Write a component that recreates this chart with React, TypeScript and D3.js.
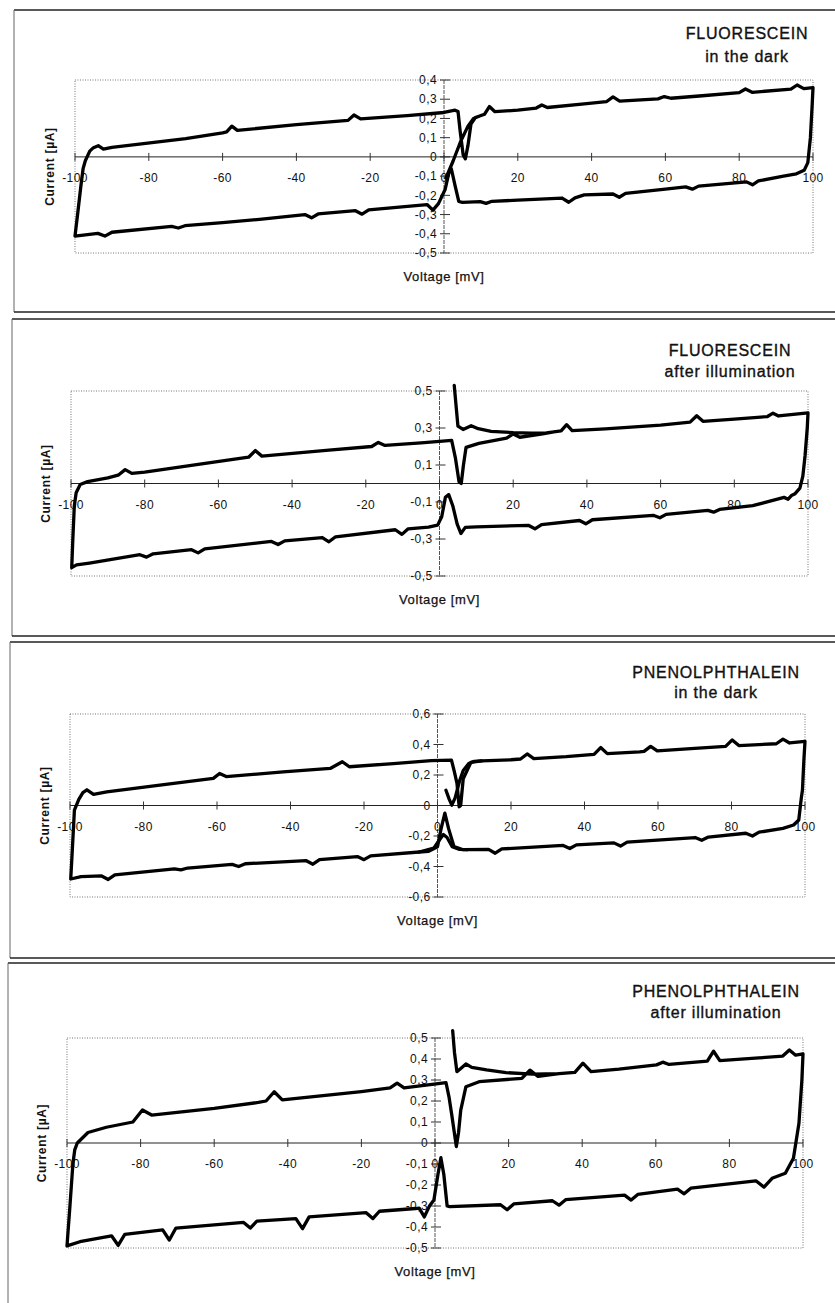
import React from 'react';
import * as d3 from 'd3';

type Pt = [number, number];

// voltage [mV], current [uA]
const xTicks = [-100, -80, -60, -40, -20, 0, 20, 40, 60, 80, 100];
const yTicksFluoDark = [0.4, 0.3, 0.2, 0.1, 0, -0.1, -0.2, -0.3, -0.4, -0.5];
const yTicksFluoIllum = [0.5, 0.3, 0.1, -0.1, -0.3, -0.5];
const yTicksPhenDark = [0.6, 0.4, 0.2, 0, -0.2, -0.4, -0.6];
const yTicksPhenIllum = [0.5, 0.4, 0.3, 0.2, 0.1, 0, -0.1, -0.2, -0.3, -0.4, -0.5];

const fluoDarkLoop: Pt[] = [
  [0.5, -0.11], [2.5, -0.02], [4.5, 0.08], [6.5, 0.16], [8, 0.2], [10, 0.215], [11, 0.222], [12.3, 0.262], [13.8, 0.235],
  [20, 0.243], [25, 0.254], [26.5, 0.27], [28, 0.257], [38, 0.276], [44, 0.287], [45.8, 0.312], [47.6, 0.29],
  [58, 0.302], [59.7, 0.314], [61.5, 0.305], [70, 0.318], [80, 0.334], [81.7, 0.353], [83.5, 0.336],
  [94, 0.352], [95.7, 0.374], [97.5, 0.355], [100, 0.36],
  [99.8, 0.28], [99.3, 0.1], [98.6, -0.03], [97.6, -0.07], [95.5, -0.088], [92, -0.1],
  [85.2, -0.125], [83.6, -0.145], [82, -0.13], [69, -0.152], [67.3, -0.168], [65.5, -0.156],
  [60, -0.168], [49.2, -0.19], [47.5, -0.21], [45.8, -0.193], [38, -0.198], [35.5, -0.213], [33.8, -0.236], [32, -0.214],
  [20, -0.225], [13, -0.231], [11.4, -0.242], [9.8, -0.233], [5, -0.237], [4, -0.232],
  [3, -0.15], [2, -0.063], [1.3, -0.085], [0.3, -0.17], [-1.5, -0.243], [-3, -0.277], [-4.6, -0.248],
  [-20.4, -0.276], [-22.2, -0.298], [-24, -0.28], [-34.1, -0.297], [-35.9, -0.317], [-37.7, -0.3],
  [-50, -0.325], [-60, -0.342], [-70.2, -0.358], [-72, -0.37], [-73.8, -0.362], [-90, -0.392], [-91.9, -0.412], [-93.8, -0.398],
  [-100, -0.412],
  [-99.3, -0.3], [-98.4, -0.15], [-97.8, -0.06], [-97.2, -0.02], [-96, 0.03], [-95, 0.048], [-93.7, 0.058], [-92.3, 0.04], [-90, 0.05],
  [-70, 0.095], [-60, 0.125], [-58.9, 0.13], [-57.5, 0.16], [-56, 0.138], [-40, 0.168], [-26, 0.19], [-24.4, 0.218], [-22.6, 0.198],
  [-10, 0.215], [0, 0.231], [3, 0.243], [3.8, 0.236],
  [4.4, 0.13], [5.2, 0.01], [5.8, -0.01], [6.5, 0.06], [7.3, 0.17], [8.5, 0.205], [11, 0.222],
];

const fluoIllumLoop: Pt[] = [
  [4.0, 0.53], [4.5, 0.42], [5.0, 0.31], [6.4, 0.292], [8.6, 0.312], [10.5, 0.296], [14, 0.282], [20, 0.275], [25, 0.272], [29, 0.274],
  [31, 0.279], [33, 0.284], [34.5, 0.318], [36, 0.286], [45, 0.295], [54, 0.307], [60, 0.316], [68, 0.332], [69.8, 0.366], [71.5, 0.336],
  [80, 0.348], [89, 0.362], [90.5, 0.38], [92, 0.365], [100, 0.382],
  [99.8, 0.3], [99.2, 0.15], [98.6, 0.04], [97.8, -0.025], [96.5, -0.055], [95.5, -0.065], [94.6, -0.085], [93.5, -0.075],
  [85, -0.12], [76, -0.14], [74.4, -0.155], [72.8, -0.145], [61.5, -0.167], [59.8, -0.185], [58, -0.172],
  [41.5, -0.196], [39.7, -0.218], [38, -0.2], [27.7, -0.222], [25.9, -0.245], [24.1, -0.226], [10, -0.234], [7, -0.237],
  [5.8, -0.27], [4.8, -0.22], [3.6, -0.12], [2.5, -0.06], [1.6, -0.075], [0.6, -0.18], [-0.5, -0.225], [-3, -0.236],
  [-8.5, -0.245], [-10.2, -0.275], [-12, -0.25], [-28.2, -0.288], [-30, -0.315], [-31.8, -0.292],
  [-42, -0.31], [-43.8, -0.33], [-45.6, -0.313], [-63.7, -0.353], [-65.5, -0.375], [-67.3, -0.358],
  [-77.7, -0.38], [-79.5, -0.398], [-81.3, -0.385], [-95, -0.43], [-98.5, -0.44], [-99.8, -0.455],
  [-99.5, -0.3], [-99.1, -0.12], [-98.6, -0.05], [-97.5, -0.005], [-95.5, 0.01], [-90, 0.03], [-87.2, 0.045], [-85.3, 0.075], [-83.5, 0.055],
  [-80, 0.062], [-65, 0.105], [-51.8, 0.142], [-50, 0.178], [-48.2, 0.148], [-30, 0.18], [-18.4, 0.2], [-16.6, 0.222], [-14.8, 0.206],
  [-5, 0.22], [2.5, 0.232], [3.3, 0.233],
  [4.3, 0.14], [5.3, 0.01], [5.9, 0.0], [6.5, 0.1], [7.2, 0.195], [10.7, 0.217], [18.2, 0.245], [20, 0.268], [21.8, 0.25], [28, 0.268], [31, 0.279],
];

const phenDarkStart: Pt[] = [
  [2.3, 0.1], [3.2, 0.04], [3.9, 0.002], [4.8, 0.05], [6, 0.16], [7, 0.23], [8.5, 0.275], [10, 0.29], [12, 0.292],
];

const phenDarkLoop: Pt[] = [
  [12, 0.292], [20, 0.3], [22.6, 0.305], [24.4, 0.338], [26.2, 0.308], [35, 0.32], [42.6, 0.335], [44.4, 0.38], [46.2, 0.34],
  [55, 0.352], [56.2, 0.355], [58, 0.388], [59.8, 0.358], [70, 0.375], [78.4, 0.388], [80.2, 0.43], [82, 0.393],
  [92.2, 0.405], [94, 0.435], [95.8, 0.41], [100, 0.42],
  [99.7, 0.3], [99.3, 0.1], [99, 0.05], [98.3, -0.095], [96.9, -0.128], [94, -0.15], [87.5, -0.175], [85.7, -0.2], [83.9, -0.182],
  [73.7, -0.207], [71.9, -0.228], [70.1, -0.21], [51.6, -0.24], [49.8, -0.266], [48, -0.245], [37.8, -0.258], [36, -0.282], [34.2, -0.262],
  [17.5, -0.285], [15.7, -0.313], [13.9, -0.288], [7, -0.29], [4.5, -0.27], [3, -0.15], [2, -0.05], [1, -0.15], [0, -0.27], [-2.4, -0.3],
  [-18.2, -0.33], [-20, -0.355], [-21.8, -0.335], [-32.1, -0.355], [-33.9, -0.385], [-35.7, -0.362],
  [-52.3, -0.382], [-54.1, -0.4], [-55.9, -0.386], [-68, -0.41], [-69.8, -0.422], [-71.6, -0.415], [-87.8, -0.455], [-89.6, -0.485], [-91.4, -0.462],
  [-97, -0.467], [-99.8, -0.482],
  [-99.5, -0.35], [-98.8, -0.03], [-97.6, 0.04], [-96.5, 0.085], [-95.4, 0.103], [-93.6, 0.073], [-90, 0.09],
  [-75, 0.135], [-61, 0.178], [-59.3, 0.21], [-57.5, 0.19], [-42, 0.22], [-29.2, 0.243], [-25.9, 0.287], [-24, 0.254],
  [-12, 0.275], [-1.7, 0.294], [3.8, 0.298],
  [4.6, 0.22], [5.3, 0.145], [5.9, -0.008], [6.3, 0.0], [7, 0.175], [9.1, 0.283], [12, 0.292],
];

const phenDarkPeak2: Pt[] = [
  [-5, -0.305], [-1, -0.28], [0.7, -0.22], [1.6, -0.19], [2.6, -0.21], [4, -0.27], [6, -0.288], [8, -0.29],
];

const phenIllumLoop: Pt[] = [
  [4.8, 0.535], [5.3, 0.43], [5.95, 0.34], [7, 0.355], [8.4, 0.376], [10, 0.36], [14, 0.348], [19.3, 0.335], [26.5, 0.328], [33.7, 0.33], [38, 0.336],
  [40.2, 0.38], [42.4, 0.34], [50, 0.352], [55.4, 0.363], [60.2, 0.372], [61.9, 0.385], [63.6, 0.374], [74, 0.39], [75.7, 0.437], [77.4, 0.392],
  [88, 0.405], [94.5, 0.414], [96.3, 0.443], [98, 0.418], [100, 0.424],
  [99.7, 0.3], [98.9, 0.094], [97.4, -0.073], [95.2, -0.144], [91.6, -0.168], [89.4, -0.21], [87.2, -0.18],
  [69.5, -0.215], [67.7, -0.242], [65.9, -0.22], [55.1, -0.245], [53.3, -0.272], [51.5, -0.248], [35.5, -0.27], [33.7, -0.296], [31.9, -0.275],
  [21.4, -0.29], [19.6, -0.318], [17.8, -0.294], [4, -0.303], [3.3, -0.3], [2.4, -0.15], [1.6, -0.07], [0.8, -0.15], [-0.3, -0.271],
  [-1.5, -0.3], [-2.9, -0.352], [-4.3, -0.31], [-5.3, -0.312], [-15.1, -0.325], [-16.9, -0.36], [-18.7, -0.332],
  [-34.2, -0.352], [-36, -0.408], [-37.8, -0.36], [-48.4, -0.372], [-50.2, -0.405], [-52, -0.378],
  [-70.4, -0.405], [-72.2, -0.462], [-74, -0.414], [-84.3, -0.435], [-86.1, -0.487], [-87.9, -0.442], [-96.5, -0.47], [-100, -0.49],
  [-99.2, -0.3], [-98.4, -0.1], [-97.9, -0.033], [-97.2, 0.0], [-94.3, 0.05], [-89.3, 0.075], [-82.1, 0.1], [-79.5, 0.157], [-77, 0.133],
  [-60, 0.165], [-48, 0.193], [-45.9, 0.2], [-43.7, 0.244], [-41.5, 0.205], [-20, 0.245], [-12.2, 0.262], [-10.3, 0.285], [-8.4, 0.262],
  [3, 0.287],
  [3.8, 0.22], [4.5, 0.14], [5.8, -0.017], [6.4, 0.05], [7, 0.157], [8.4, 0.268], [12, 0.292], [23.6, 0.308], [25.8, 0.347], [28, 0.317], [33.7, 0.33],
];

const PANELS = [
  {
    title: ['FLUORESCEIN', 'in the dark'], traces: [fluoDarkLoop], yDomain: [-0.5, 0.4], yTicks: yTicksFluoDark,
    frame: { left: 14, top: 10, bottom: 312 }, plot: { left: 75, right: 813, top: 80, bottom: 253 },
    titleX: 747, titleY: [39, 62],
  },
  {
    title: ['FLUORESCEIN', 'after illumination'], traces: [fluoIllumLoop], yDomain: [-0.5, 0.5], yTicks: yTicksFluoIllum,
    frame: { left: 12, top: 319, bottom: 636 }, plot: { left: 71, right: 808, top: 391, bottom: 576 },
    titleX: 730, titleY: [356, 377],
  },
  {
    title: ['PNENOLPHTHALEIN', 'in the dark'], traces: [phenDarkStart, phenDarkLoop, phenDarkPeak2], yDomain: [-0.6, 0.6], yTicks: yTicksPhenDark,
    frame: { left: 10, top: 642, bottom: 958 }, plot: { left: 70, right: 805, top: 714, bottom: 897 },
    titleX: 716, titleY: [678, 698],
  },
  {
    title: ['PHENOLPHTHALEIN', 'after illumination'], traces: [phenIllumLoop], yDomain: [-0.5, 0.5], yTicks: yTicksPhenIllum,
    frame: { left: 8, top: 963, bottom: null as number | null }, plot: { left: 67, right: 803, top: 1038, bottom: 1248 },
    titleX: 716, titleY: [997, 1018],
  },
];

const W = 835;
const H = 1303;
const FONT = '"Liberation Sans", Arial, sans-serif';

const locale = d3.formatLocale({ decimal: ',', thousands: '.', grouping: [3], currency: ['', ''], minus: '-' });
const fmtY = locale.format('.1~f');

function Panel({ p }: { p: (typeof PANELS)[number] }) {
  const x = d3.scaleLinear().domain([-100, 100]).range([p.plot.left, p.plot.right]);
  const y = d3.scaleLinear().domain(p.yDomain).range([p.plot.bottom, p.plot.top]);
  const line = d3.line<Pt>().x(d => x(d[0])).y(d => y(d[1]));
  const x0 = x(0);
  const y0 = y(0);
  const fb = p.frame.bottom ?? H;

  return (
    <g>
      {/* panel frame */}
      <line x1={p.frame.left} x2={W} y1={p.frame.top} y2={p.frame.top} stroke="#222" strokeWidth={1.6} />
      <line x1={p.frame.left} x2={p.frame.left} y1={p.frame.top} y2={fb} stroke="#666" strokeWidth={1} />
      {p.frame.bottom != null && (
        <line x1={p.frame.left} x2={W} y1={fb} y2={fb} stroke="#222" strokeWidth={1.6} />
      )}

      {/* titles */}
      {p.title.map((t, i) => (
        <text key={t} x={p.titleX} y={p.titleY[i]} textAnchor="middle" fontSize={16} letterSpacing={0.8}
          fontFamily={FONT} fill="#111" stroke="#111" strokeWidth={0.35}>{t}</text>
      ))}

      {/* plot area border */}
      <rect x={p.plot.left} y={p.plot.top} width={p.plot.right - p.plot.left} height={p.plot.bottom - p.plot.top}
        fill="none" stroke="#777" strokeWidth={1} strokeDasharray="1,1.5" />

      {/* y axis */}
      <line x1={x0} x2={x0} y1={p.plot.top} y2={p.plot.bottom} stroke="#555" strokeWidth={1} strokeDasharray="4,1" />
      {p.yTicks.map(v => (
        <g key={v}>
          <line x1={x0 - 4} x2={x0 + 6} y1={y(v)} y2={y(v)} stroke="#333" strokeWidth={1} />
          <text x={x0 - 7} y={y(v)} dy="0.35em" textAnchor="end" fontSize={12} letterSpacing={0.4}
            fontFamily={FONT} fill="#111">{fmtY(v)}</text>
        </g>
      ))}

      {/* x axis */}
      <line x1={p.plot.left} x2={p.plot.right} y1={y0} y2={y0} stroke="#222" strokeWidth={1} />
      {xTicks.map(v => (
        <g key={v}>
          <line x1={x(v)} x2={x(v)} y1={y0 - 4} y2={y0 + 4} stroke="#333" strokeWidth={1} />
          <text x={x(v)} y={y0 + 25} textAnchor="middle" fontSize={12} letterSpacing={0.4}
            fontFamily={FONT} fill="#111">{v}</text>
        </g>
      ))}

      {/* axis titles */}
      <text x={x0} y={p.plot.bottom + 28} textAnchor="middle" fontSize={13} letterSpacing={0.6}
        fontFamily={FONT} fill="#111" stroke="#111" strokeWidth={0.25}>Voltage [mV]</text>
      <text transform={`translate(${p.plot.left - 21},${(p.plot.top + p.plot.bottom) / 2}) rotate(-90)`}
        textAnchor="middle" fontSize={12} fontWeight="bold" letterSpacing={0.7}
        fontFamily={FONT} fill="#111">Current [µA]</text>

      {/* curves */}
      {p.traces.map((tr, i) => (
        <path key={i} d={line(tr) ?? ''} fill="none" stroke="#000" strokeWidth={3.3}
          strokeLinejoin="round" strokeLinecap="round" />
      ))}
    </g>
  );
}

export default function App() {
  return (
    <svg width={W} height={H} style={{ position: 'absolute', left: 0, top: 0, background: '#fff' }}>
      <rect x={0} y={0} width={W} height={H} fill="#fff" />
      {PANELS.map((p, i) => <Panel key={i} p={p} />)}
    </svg>
  );
}
